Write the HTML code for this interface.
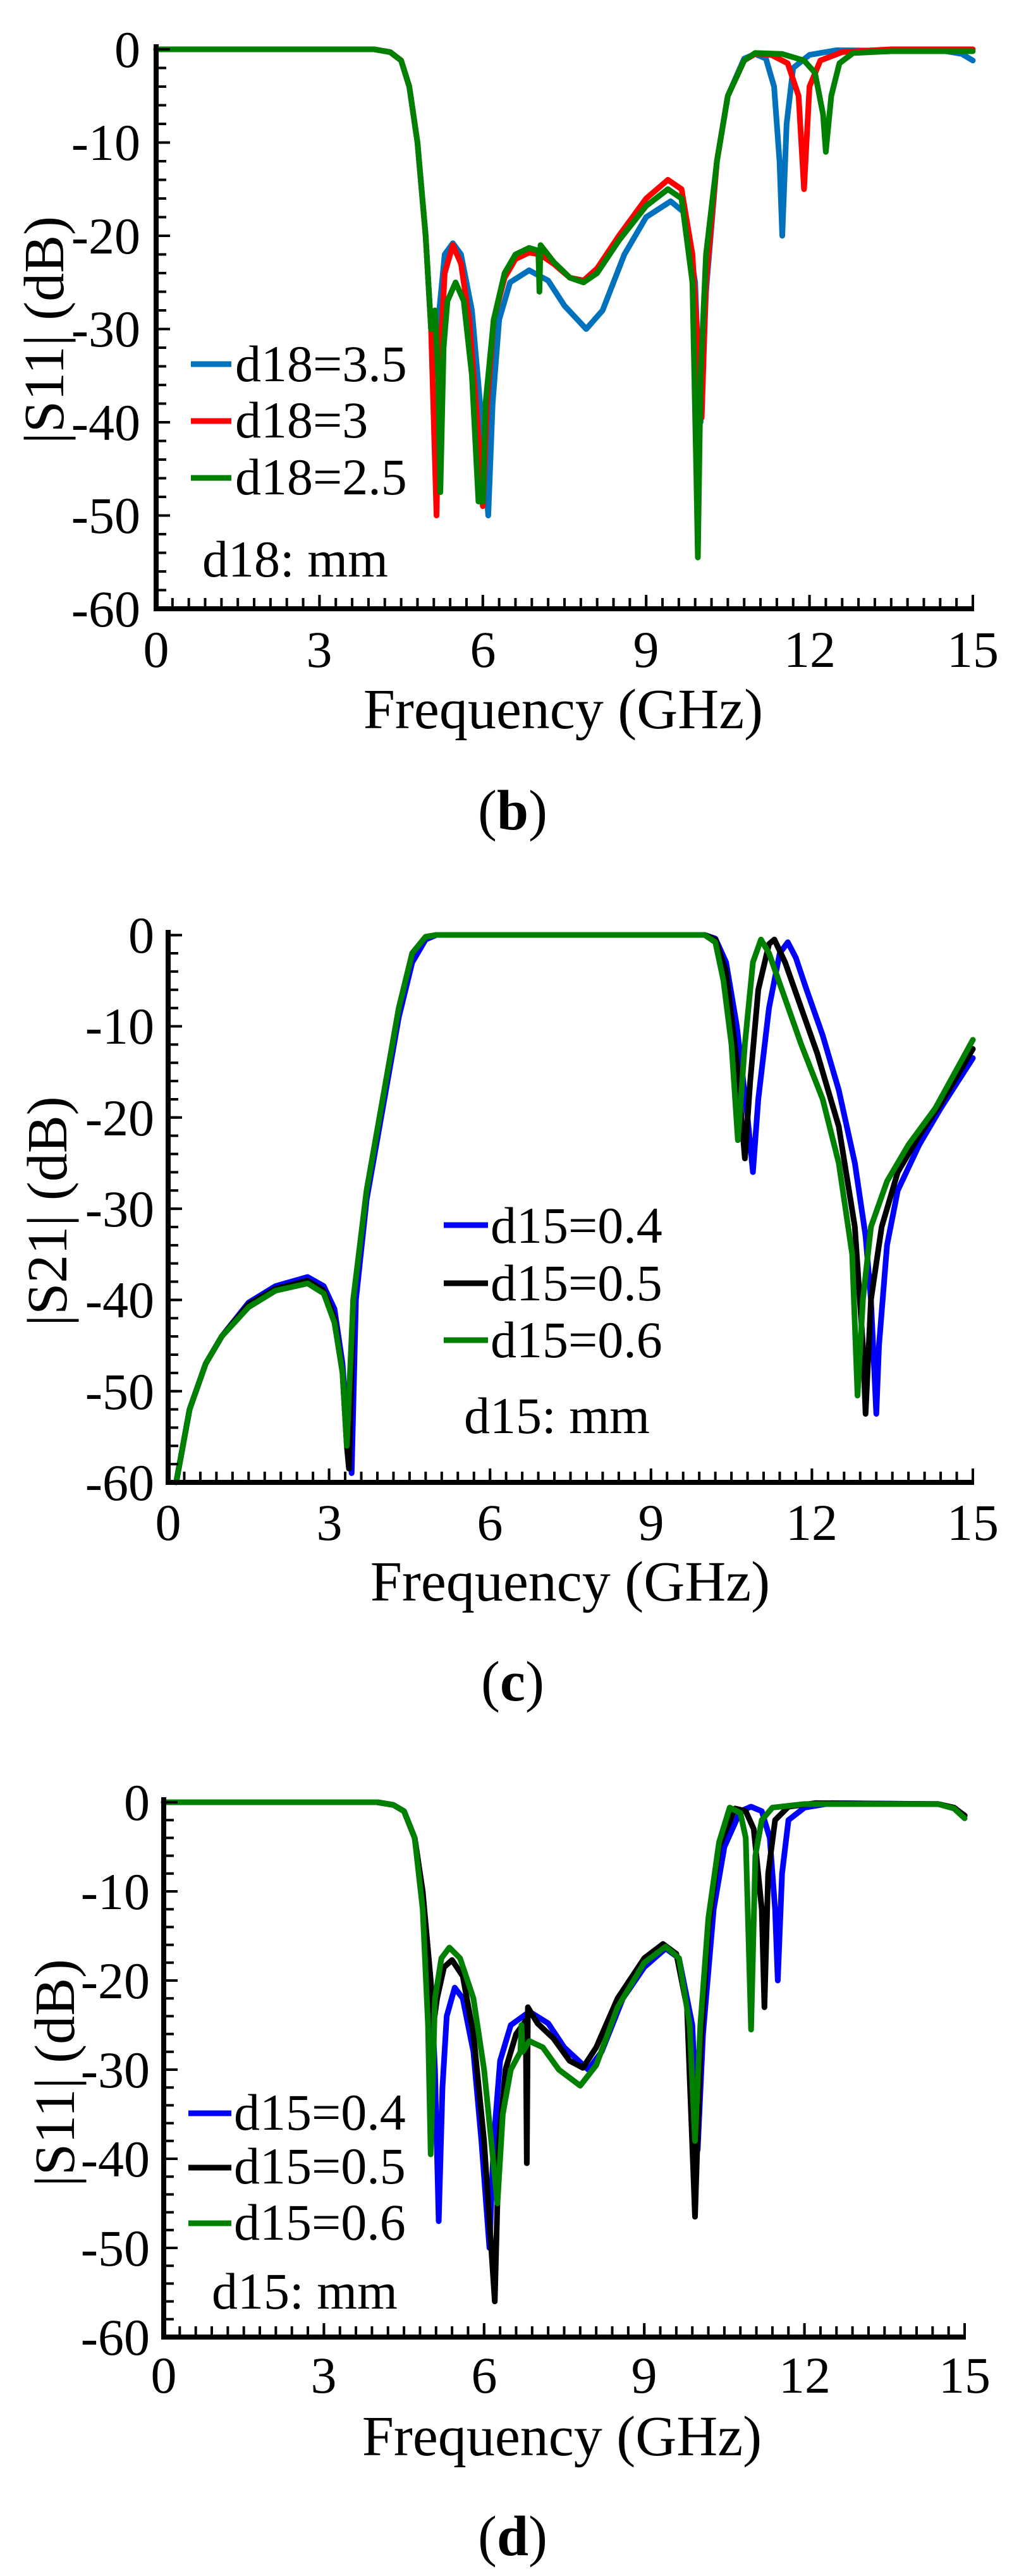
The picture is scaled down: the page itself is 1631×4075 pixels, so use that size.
<!DOCTYPE html>
<html><head><meta charset="utf-8"><style>
html,body{margin:0;padding:0;background:#fff}
svg{display:block}
text{font-family:"Liberation Serif",serif;fill:#000}
.d{fill:none;stroke-width:9;stroke-linejoin:round;stroke-linecap:round;vector-effect:non-scaling-stroke}
.t{font-size:82px}
.a{font-size:90px}
</style></head><body>
<svg width="1631" height="4075" viewBox="0 0 1631 4075" xmlns="http://www.w3.org/2000/svg">

<!-- ================= (b) ================= -->
<g>
<g transform="translate(247,78) scale(86.13,-14.75)">
<polyline class="d" stroke="#0072bd" points="0,0 4.0,0 4.3,-0.3 4.5,-1.2 4.65,-4 4.8,-10 4.95,-20 5.05,-30 5.12,-35 5.2,-28 5.3,-22 5.45,-20.8 5.6,-22 5.8,-28 5.95,-38 6.1,-50 6.18,-38 6.3,-29 6.5,-25 6.85,-23.7 7.2,-24.8 7.5,-27.5 7.9,-30 8.2,-28 8.6,-22 9.0,-18 9.45,-16.3 9.7,-17.5 9.9,-25 10.0,-40 10.1,-26 10.3,-12 10.5,-5 10.8,-1 11.0,-0.5 11.2,-1 11.35,-4 11.45,-12 11.5,-20 11.58,-8 11.7,-2 12,-0.6 12.5,-0.1 14.5,-0.2 14.8,-0.5 15,-1.2"/>
<polyline class="d" stroke="#ff0000" points="0,0 4.0,0 4.3,-0.3 4.5,-1.2 4.65,-4 4.8,-10 4.95,-20 5.05,-30 5.1,-40 5.15,-50 5.2,-35 5.3,-24 5.45,-21 5.6,-23 5.75,-29 5.9,-40 6.0,-49 6.08,-38 6.2,-29 6.4,-24.5 6.6,-22.5 6.85,-21.8 7.05,-22 7.3,-23 7.6,-24.5 7.85,-24.8 8.1,-23.5 8.5,-20 9.0,-16 9.4,-14 9.65,-15 9.85,-22 9.95,-32 10.02,-39.5 10.1,-25 10.3,-12 10.5,-5 10.8,-1.2 11.0,-0.5 11.3,-0.6 11.6,-1.5 11.8,-5 11.9,-15 12.0,-4 12.2,-1.2 12.6,-0.3 13.5,0 15,0"/>
<polyline class="d" stroke="#008000" points="0,0 4.0,0 4.3,-0.3 4.5,-1.2 4.65,-4 4.8,-10 4.95,-20 5.05,-30 5.12,-28 5.18,-35 5.22,-47.5 5.28,-32 5.35,-27 5.5,-25 5.65,-27 5.8,-35 5.92,-48.5 6.0,-48.5 6.05,-38 6.2,-29 6.4,-24 6.6,-22 6.85,-21.3 7.02,-21.6 7.04,-26 7.06,-21 7.3,-22.8 7.6,-24.5 7.85,-25 8.1,-24 8.5,-20.5 9.0,-16.8 9.4,-15 9.65,-16 9.85,-25 9.92,-45 9.95,-54.5 10.0,-35 10.1,-22 10.3,-12 10.5,-5 10.8,-1.2 11.0,-0.4 11.5,-0.5 11.9,-1.2 12.1,-2.5 12.25,-7 12.3,-11 12.4,-5 12.55,-1.5 12.8,-0.4 13.5,-0.2 15,-0.2"/>
</g>
<line x1="247" y1="70" x2="247" y2="967" stroke="#000" stroke-width="8"/>
<line x1="243" y1="963" x2="1541" y2="963" stroke="#000" stroke-width="8"/>
<line x1="247" y1="953" x2="1541" y2="953" stroke="#000" stroke-width="14" stroke-dasharray="4 21.84" stroke-dashoffset="2"/>
<line x1="247" y1="951" x2="1541" y2="951" stroke="#000" stroke-width="20" stroke-dasharray="4 254.4" stroke-dashoffset="2"/>
<line x1="256" y1="963" x2="256" y2="78" stroke="#000" stroke-width="14" stroke-dasharray="4 25.5" stroke-dashoffset="2"/>
<line x1="259" y1="963" x2="259" y2="76" stroke="#000" stroke-width="20" stroke-dasharray="4 143.5" stroke-dashoffset="2"/>
<g class="t" text-anchor="end">
<text x="222" y="106">0</text><text x="222" y="253">-10</text><text x="222" y="401">-20</text><text x="222" y="548">-30</text><text x="222" y="696">-40</text><text x="222" y="843">-50</text><text x="222" y="991">-60</text>
</g>
<g class="t" text-anchor="middle">
<text x="247" y="1055">0</text><text x="505" y="1055">3</text><text x="764" y="1055">6</text><text x="1022" y="1055">9</text><text x="1281" y="1055">12</text><text x="1539" y="1055">15</text>
</g>
<text class="a" x="891" y="1152" text-anchor="middle">Frequency (GHz)</text>
<text class="a" transform="translate(100,522) rotate(-90)" text-anchor="middle">|S11| (dB)</text>
<line x1="302" y1="576" x2="366" y2="576" stroke="#0072bd" stroke-width="9"/>
<line x1="302" y1="666" x2="366" y2="666" stroke="#ff0000" stroke-width="9"/>
<line x1="302" y1="756" x2="366" y2="756" stroke="#008000" stroke-width="9"/>
<text class="t" x="372" y="603">d18=3.5</text>
<text class="t" x="372" y="692">d18=3</text>
<text class="t" x="372" y="782">d18=2.5</text>
<text class="t" x="320" y="912">d18: mm</text>
<text class="a" x="811" y="1312" text-anchor="middle">(<tspan font-weight="bold">b</tspan>)</text>
</g>

<!-- ================= (c) ================= -->
<g>
<g transform="translate(266,1479) scale(84.87,-14.43)">
<polyline class="d" stroke="#0000ff" points="0.15,-60 0.4,-52 0.7,-47 1.0,-44 1.5,-40.3 2.0,-38.5 2.6,-37.5 2.9,-38.5 3.1,-41 3.25,-47 3.35,-55 3.42,-59 3.5,-40 3.7,-29 4.0,-19 4.3,-9 4.55,-3 4.8,-0.5 5.0,0 10,0 10.2,-0.4 10.4,-3 10.6,-10 10.8,-20 10.9,-26 11.0,-18 11.2,-8 11.4,-2 11.55,-0.8 11.7,-2.5 11.9,-6 12.2,-11 12.5,-17 12.8,-25 13.0,-33 13.1,-40 13.2,-52.5 13.25,-45 13.4,-34 13.6,-28 14.0,-23 14.4,-19 15,-13.5"/>
<polyline class="d" stroke="#000000" points="0.15,-60 0.4,-52 0.7,-47 1.0,-44 1.5,-40.5 2.0,-38.8 2.6,-37.9 2.9,-39 3.1,-42 3.25,-48 3.33,-56 3.37,-58.5 3.45,-40 3.7,-28 4.0,-18 4.3,-8 4.55,-2 4.8,-0.2 5.0,0 10,0 10.2,-0.5 10.4,-4 10.6,-14 10.75,-24.5 10.85,-16 11.0,-6 11.2,-1 11.3,-0.5 11.5,-3 11.8,-8 12.1,-13 12.5,-21 12.8,-32 12.95,-45 13.0,-52.5 13.1,-40 13.3,-32 13.6,-26 14.0,-22 14.4,-18.5 15,-12.5"/>
<polyline class="d" stroke="#008000" points="0.15,-60 0.4,-52 0.7,-47 1.0,-44 1.5,-40.8 2.0,-39 2.6,-38.2 2.9,-39.3 3.1,-42.5 3.25,-48 3.33,-56 3.45,-40 3.7,-28 4.0,-18 4.3,-8 4.55,-2 4.8,-0.2 5.0,0 10,0 10.2,-0.8 10.35,-5 10.5,-12 10.62,-22.5 10.75,-12 10.9,-3 11.05,-0.5 11.2,-2 11.5,-7 11.8,-12 12.2,-18 12.5,-25 12.75,-35 12.85,-50.5 12.95,-40 13.1,-32 13.4,-27 13.8,-23 14.3,-19 15,-11.5"/>
</g>
<line x1="266" y1="1471" x2="266" y2="2349" stroke="#000" stroke-width="8"/>
<line x1="262" y1="2345" x2="1541" y2="2345" stroke="#000" stroke-width="8"/>
<line x1="266" y1="2335" x2="1541" y2="2335" stroke="#000" stroke-width="14" stroke-dasharray="4 21.46" stroke-dashoffset="2"/>
<line x1="266" y1="2333" x2="1541" y2="2333" stroke="#000" stroke-width="20" stroke-dasharray="4 250.6" stroke-dashoffset="2"/>
<line x1="275" y1="2345" x2="275" y2="1479" stroke="#000" stroke-width="14" stroke-dasharray="4 24.86" stroke-dashoffset="2"/>
<line x1="278" y1="2345" x2="278" y2="1477" stroke="#000" stroke-width="20" stroke-dasharray="4 140.3" stroke-dashoffset="2"/>
<g class="t" text-anchor="end">
<text x="244" y="1507">0</text><text x="244" y="1651">-10</text><text x="244" y="1796">-20</text><text x="244" y="1940">-30</text><text x="244" y="2084">-40</text><text x="244" y="2229">-50</text><text x="244" y="2373">-60</text>
</g>
<g class="t" text-anchor="middle">
<text x="266" y="2436">0</text><text x="521" y="2436">3</text><text x="775" y="2436">6</text><text x="1030" y="2436">9</text><text x="1284" y="2436">12</text><text x="1539" y="2436">15</text>
</g>
<text class="a" x="902" y="2532" text-anchor="middle">Frequency (GHz)</text>
<text class="a" transform="translate(105,1916) rotate(-90)" text-anchor="middle">|S21| (dB)</text>
<line x1="702" y1="1938" x2="772" y2="1938" stroke="#0000ff" stroke-width="9"/>
<line x1="702" y1="2030" x2="772" y2="2030" stroke="#000" stroke-width="9"/>
<line x1="702" y1="2120" x2="772" y2="2120" stroke="#008000" stroke-width="9"/>
<text class="t" x="776" y="1966">d15=0.4</text>
<text class="t" x="776" y="2057">d15=0.5</text>
<text class="t" x="776" y="2147">d15=0.6</text>
<text class="t" x="734" y="2267">d15: mm</text>
<text class="a" x="811" y="2690" text-anchor="middle">(<tspan font-weight="bold">c</tspan>)</text>
</g>

<!-- ================= (d) ================= -->
<g>
<g transform="translate(259,2851) scale(84.47,-14.1)">
<polyline class="d" stroke="#0000ff" points="0,0 4.0,0 4.3,-0.3 4.5,-1 4.7,-4 4.85,-10 5.0,-20 5.08,-30 5.15,-47 5.22,-32 5.3,-24 5.45,-20.8 5.6,-22 5.8,-28 5.95,-38 6.1,-50 6.18,-38 6.3,-29 6.5,-25 6.85,-23.5 7.2,-24.8 7.5,-27.5 7.95,-30 8.2,-28 8.6,-22 9.0,-18.5 9.4,-16.4 9.65,-17.5 9.9,-25 10.0,-39 10.1,-26 10.3,-12 10.5,-5 10.8,-1 11.0,-0.5 11.2,-1 11.35,-4 11.45,-12 11.5,-20 11.58,-8 11.7,-2 12,-0.6 12.5,-0.1 14.5,-0.2 14.8,-0.6 15,-1.5"/>
<polyline class="d" stroke="#000000" points="0,0 4.0,0 4.3,-0.3 4.5,-1 4.7,-4 4.85,-10 5.0,-20 5.05,-25 5.12,-22 5.25,-18.5 5.4,-17.7 5.6,-19.5 5.8,-26 6.0,-38 6.2,-56 6.28,-38 6.4,-30 6.6,-26 6.78,-24.5 6.8,-40.5 6.82,-23 7.0,-24.8 7.3,-26.5 7.6,-29 7.85,-29.8 8.1,-27.5 8.5,-22 9.0,-17.5 9.35,-15.9 9.6,-17 9.8,-23 9.95,-46.5 10.05,-28 10.2,-14 10.4,-5 10.7,-0.7 10.9,-1 11.05,-3 11.2,-12 11.25,-23 11.32,-8 11.45,-2 11.7,-0.5 12.2,-0.1 14.5,-0.2 14.8,-0.6 15,-1.5"/>
<polyline class="d" stroke="#008000" points="0,0 4.0,0 4.3,-0.3 4.5,-1 4.7,-4 4.85,-12 4.95,-25 5.0,-39.5 5.08,-22 5.2,-17.5 5.35,-16.3 5.55,-17.5 5.8,-22 6.0,-30 6.2,-42 6.25,-45 6.35,-35 6.5,-30 6.68,-28 6.7,-25 6.72,-28 6.85,-26.8 7.1,-27.5 7.4,-30 7.8,-31.8 8.1,-29.5 8.5,-23 9.0,-18 9.4,-16.2 9.65,-17.5 9.85,-25 9.95,-38 10.05,-25 10.2,-13 10.4,-4.5 10.6,-0.6 10.8,-1.2 10.9,-4 11.0,-25.5 11.08,-6 11.2,-2 11.4,-0.6 12,-0.2 14.5,-0.2 14.8,-0.7 15,-1.8"/>
</g>
<line x1="259" y1="2843" x2="259" y2="3701" stroke="#000" stroke-width="8"/>
<line x1="255" y1="3697" x2="1528" y2="3697" stroke="#000" stroke-width="8"/>
<line x1="259" y1="3687" x2="1528" y2="3687" stroke="#000" stroke-width="14" stroke-dasharray="4 21.34" stroke-dashoffset="2"/>
<line x1="259" y1="3685" x2="1528" y2="3685" stroke="#000" stroke-width="20" stroke-dasharray="4 249.4" stroke-dashoffset="2"/>
<line x1="268" y1="3697" x2="268" y2="2851" stroke="#000" stroke-width="14" stroke-dasharray="4 24.2" stroke-dashoffset="2"/>
<line x1="271" y1="3697" x2="271" y2="2849" stroke="#000" stroke-width="20" stroke-dasharray="4 137" stroke-dashoffset="2"/>
<g class="t" text-anchor="end">
<text x="237" y="2879">0</text><text x="237" y="3020">-10</text><text x="237" y="3161">-20</text><text x="237" y="3302">-30</text><text x="237" y="3443">-40</text><text x="237" y="3584">-50</text><text x="237" y="3725">-60</text>
</g>
<g class="t" text-anchor="middle">
<text x="259" y="3785">0</text><text x="512" y="3785">3</text><text x="766" y="3785">6</text><text x="1019" y="3785">9</text><text x="1273" y="3785">12</text><text x="1526" y="3785">15</text>
</g>
<text class="a" x="889" y="3884" text-anchor="middle">Frequency (GHz)</text>
<text class="a" transform="translate(117,3279) rotate(-90)" text-anchor="middle">|S11| (dB)</text>
<line x1="298" y1="3343" x2="366" y2="3343" stroke="#0000ff" stroke-width="9"/>
<line x1="298" y1="3429" x2="366" y2="3429" stroke="#000" stroke-width="9"/>
<line x1="298" y1="3517" x2="366" y2="3517" stroke="#008000" stroke-width="9"/>
<text class="t" x="370" y="3369">d15=0.4</text>
<text class="t" x="370" y="3454">d15=0.5</text>
<text class="t" x="370" y="3543">d15=0.6</text>
<text class="t" x="335" y="3652">d15: mm</text>
<text class="a" x="811" y="4042" text-anchor="middle">(<tspan font-weight="bold">d</tspan>)</text>
</g>
</svg>
</body></html>
